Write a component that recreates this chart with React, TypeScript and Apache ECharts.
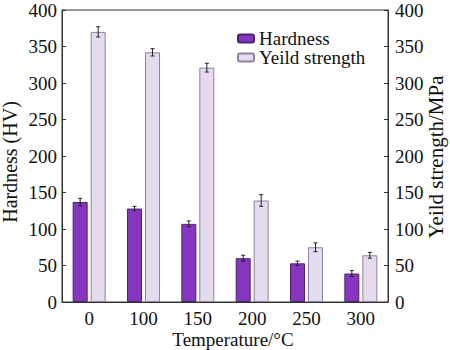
import React, { useEffect, useRef } from "react";
import * as echarts from "echarts";

const categories = ["0", "100", "150", "200", "250", "300"];
const hardness = [137, 128, 107, 60, 53, 39];
const hardnessErr = [5, 3, 4, 4, 3, 4];
const yieldStrength = [370, 342, 321, 139, 75, 64];
const yieldErr = [7, 5, 6, 8, 6, 4];

const FONT = "Liberation Serif";
const AXIS_COLOR = "#333";

function errorSeries(name: string, values: number[], errs: number[], offset: number, yAxisIndex: number) {
  return {
    name,
    type: "custom",
    yAxisIndex,
    silent: true,
    z: 5,
    data: values.map((v, i) => [i, v, errs[i]]),
    renderItem: (params: any, api: any) => {
      const x = api.value(0);
      const v = api.value(1);
      const e = api.value(2);
      const top = api.coord([x, v + e]);
      const bot = api.coord([x, v - e]);
      const cx = top[0] + offset;
      const style = { stroke: "#222", lineWidth: 1 };
      return {
        type: "group",
        children: [
          { type: "line", shape: { x1: cx, y1: top[1], x2: cx, y2: bot[1] }, style },
          { type: "line", shape: { x1: cx - 2, y1: top[1], x2: cx + 2, y2: top[1] }, style },
          { type: "line", shape: { x1: cx - 2, y1: bot[1], x2: cx + 2, y2: bot[1] }, style },
        ],
      };
    },
  };
}

export default function App() {
  const ref = useRef<HTMLDivElement>(null);
  useEffect(() => {
    document.body.style.margin = "0";
    if (!ref.current) return;
    const chart = echarts.init(ref.current, null, { renderer: "svg" });
    const textStyle = { fontFamily: FONT, fontSize: 19, color: "#111" };
    const yAxisCommon = {
      type: "value",
      min: 0,
      max: 400,
      interval: 50,
      axisLine: { show: true, lineStyle: { color: AXIS_COLOR, width: 1 } },
      axisTick: { show: true, inside: true, length: 4, lineStyle: { color: AXIS_COLOR } },
      splitLine: { show: false },
    };
    chart.setOption({
      animation: false,
      backgroundColor: "#fff",
      textStyle: { fontFamily: FONT },
      grid: {
        left: 62,
        right: 62,
        top: 10,
        bottom: 48,
        outerBoundsMode: "none",
        containLabel: false,
        show: true,
        borderColor: AXIS_COLOR,
        borderWidth: 1,
        backgroundColor: "transparent",
      },
      graphic: [
        {
          type: "text",
          x: 10,
          y: 162,
          rotation: Math.PI / 2,
          style: {
            text: "Hardness (HV)",
            fontFamily: FONT,
            fontSize: 20,
            fill: "#111",
            align: "center",
            verticalAlign: "middle",
          },
        },
        {
          type: "text",
          x: 436,
          y: 157,
          rotation: Math.PI / 2,
          style: {
            text: "Yeild strength/MPa",
            fontFamily: FONT,
            fontSize: 21,
            fill: "#111",
            align: "center",
            verticalAlign: "middle",
          },
        },
        {
          type: "text",
          x: 233,
          y: 339,
          style: {
            text: "Temperature/°C",
            fontFamily: FONT,
            fontSize: 19,
            fill: "#111",
            align: "center",
            verticalAlign: "middle",
          },
        },
      ],
      legend: {
        orient: "vertical",
        left: 232,
        top: 24,
        itemWidth: 16,
        itemHeight: 8,
        itemGap: 0,
        textStyle: { fontFamily: FONT, fontSize: 19, color: "#111", lineHeight: 17 },
        data: ["Hardness", "Yeild strength"],
      },
      xAxis: {
        type: "category",
        data: categories,
        axisLine: { show: true, lineStyle: { color: AXIS_COLOR, width: 1 } },
        axisTick: { show: false },
        axisLabel: { ...textStyle, margin: 7 },
      },
      yAxis: [
        {
          ...yAxisCommon,
          position: "left",
          axisLabel: { ...textStyle, lineHeight: 14, margin: 5 },
        },
        {
          ...yAxisCommon,
          position: "right",
          axisLabel: { ...textStyle, lineHeight: 14, margin: 7 },
        },
      ],
      series: [
        {
          name: "Hardness",
          type: "bar",
          yAxisIndex: 0,
          data: hardness,
          barWidth: 15,
          barGap: "20%",
          itemStyle: { color: "#8535BE", borderColor: "#4e2270", borderWidth: 1 },
        },
        {
          name: "Yeild strength",
          type: "bar",
          yAxisIndex: 1,
          data: yieldStrength,
          barWidth: 15,
          barGap: "20%",
          itemStyle: { color: "#E4DCEE", borderColor: "#8e80a0", borderWidth: 1 },
        },
        errorSeries("hErr", hardness, hardnessErr, -9, 0),
        errorSeries("yErr", yieldStrength, yieldErr, 9, 1),
      ],
    });
    return () => chart.dispose();
  }, []);
  return <div ref={ref} style={{ width: 450, height: 350 }} />;
}
